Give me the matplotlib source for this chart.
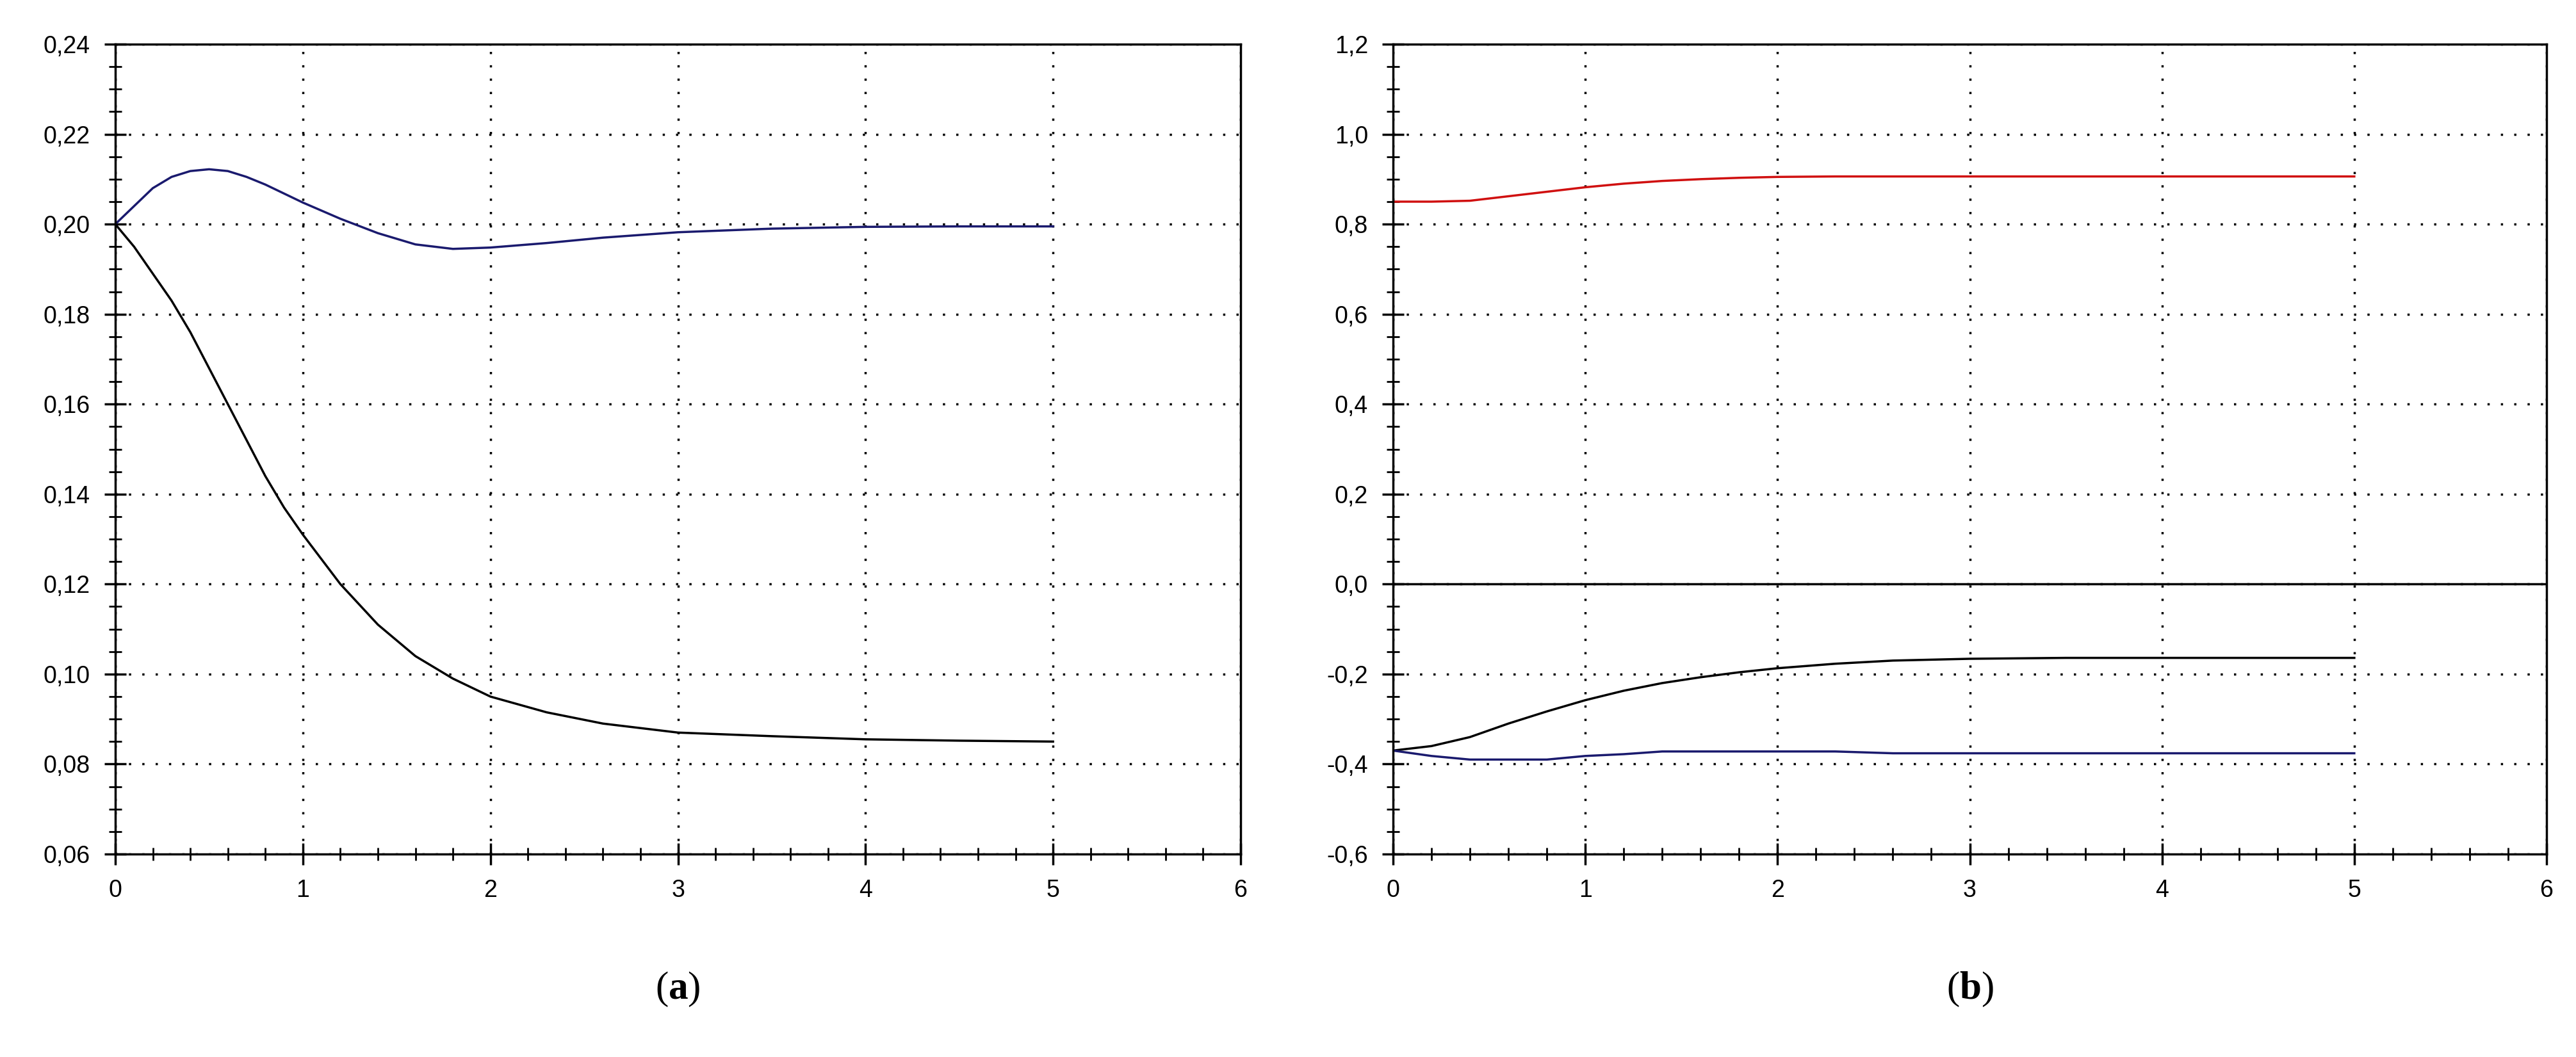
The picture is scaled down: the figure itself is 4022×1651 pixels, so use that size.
import matplotlib
matplotlib.use("Agg")
import matplotlib.pyplot as plt
from matplotlib.ticker import MultipleLocator, FuncFormatter

t_a = [0, 0.1, 0.2, 0.3, 0.4, 0.5, 0.6, 0.7, 0.8, 0.9, 1.0, 1.2, 1.4, 1.6, 1.8, 2.0, 2.3, 2.6, 3.0, 3.5, 4.0, 4.5, 5.0]
blue_a = [0.200, 0.204, 0.208, 0.2105, 0.2118, 0.2122, 0.2118, 0.2105, 0.2088, 0.2068, 0.2048, 0.2012, 0.1980, 0.1955, 0.1945, 0.1948, 0.1958, 0.1970, 0.1982, 0.1990, 0.1994, 0.1995, 0.1995]
black_a = [0.200, 0.195, 0.189, 0.183, 0.176, 0.168, 0.160, 0.152, 0.144, 0.137, 0.131, 0.120, 0.111, 0.104, 0.099, 0.095, 0.0915, 0.089, 0.087, 0.0862, 0.0855, 0.0852, 0.085]

t_b = [0, 0.2, 0.4, 0.6, 0.8, 1.0, 1.2, 1.4, 1.6, 1.8, 2.0, 2.3, 2.6, 3.0, 3.5, 4.0, 4.5, 5.0]
red_b = [0.85, 0.85, 0.852, 0.862, 0.872, 0.882, 0.890, 0.896, 0.900, 0.903, 0.905, 0.906, 0.906, 0.906, 0.906, 0.906, 0.906, 0.906]
black_b = [-0.370, -0.360, -0.340, -0.310, -0.283, -0.258, -0.237, -0.220, -0.207, -0.196, -0.187, -0.177, -0.170, -0.166, -0.164, -0.164, -0.164, -0.164]
blue_b = [-0.370, -0.382, -0.390, -0.390, -0.390, -0.382, -0.378, -0.372, -0.372, -0.372, -0.372, -0.372, -0.376, -0.376, -0.376, -0.376, -0.376, -0.376]

plt.rcParams['font.family'] = ['Liberation Sans Narrow', 'Liberation Sans', 'DejaVu Sans']
plt.rcParams['mathtext.fontset'] = 'custom'
plt.rcParams['mathtext.rm'] = 'Liberation Serif'
plt.rcParams['mathtext.bf'] = 'Liberation Serif:bold'

fig = plt.figure(figsize=(40.22, 16.51), dpi=100)
W, H = 4022, 1651
axA = fig.add_axes([180/W, 1 - 1334/H, (1937-180)/W, (1334-69)/H])
axB = fig.add_axes([2175/W, 1 - 1334/H, (3976-2175)/W, (1334-69)/H])

def comma(fmt):
    return FuncFormatter(lambda v, p: (fmt % v).replace('.', ','))

for ax in (axA, axB):
    ax.set_xlim(0, 6)
    ax.xaxis.set_major_locator(MultipleLocator(1))
    ax.xaxis.set_minor_locator(MultipleLocator(0.2))
    ax.xaxis.set_major_formatter(FuncFormatter(lambda v, p: "%d" % v))
    ax.grid(True, which='major', color='black', linestyle=(0, (1, 5)), linewidth=2.5)
    ax.tick_params(which='major', direction='inout', length=24, width=2.5, labelsize=27, pad=16)
    ax.tick_params(which='minor', direction='inout', length=14, width=2)
    for s in ax.spines.values():
        s.set_linewidth(2.5)

axA.set_ylim(0.06, 0.24)
axA.yaxis.set_major_locator(MultipleLocator(0.02))
axA.yaxis.set_minor_locator(MultipleLocator(0.005))
axA.yaxis.set_major_formatter(comma('%.2f'))
axA.plot(t_a, blue_a, color='#1a1a6e', lw=2.5)
axA.plot(t_a, black_a, color='black', lw=2.5)

axB.set_ylim(-0.6, 1.2)
axB.yaxis.set_major_locator(MultipleLocator(0.2))
axB.yaxis.set_minor_locator(MultipleLocator(0.05))
axB.yaxis.set_major_formatter(comma('%.1f'))
axB.axhline(0, color='black', lw=2.5)
axB.plot(t_b, red_b, color='#d01010', lw=2.5)
axB.plot(t_b, black_b, color='black', lw=2.5)
axB.plot(t_b, blue_b, color='#1a1a6e', lw=2.5)

fig.text((180+1937)/2/W, 1 - 1545/H, r'$\mathrm{(}\mathbf{a}\mathrm{)}$', ha='center', va='center', fontsize=44)
fig.text((2175+3976)/2/W, 1 - 1545/H, r'$\mathrm{(}\mathbf{b}\mathrm{)}$', ha='center', va='center', fontsize=44)

fig.savefig('out.png', dpi=100, facecolor='white')
